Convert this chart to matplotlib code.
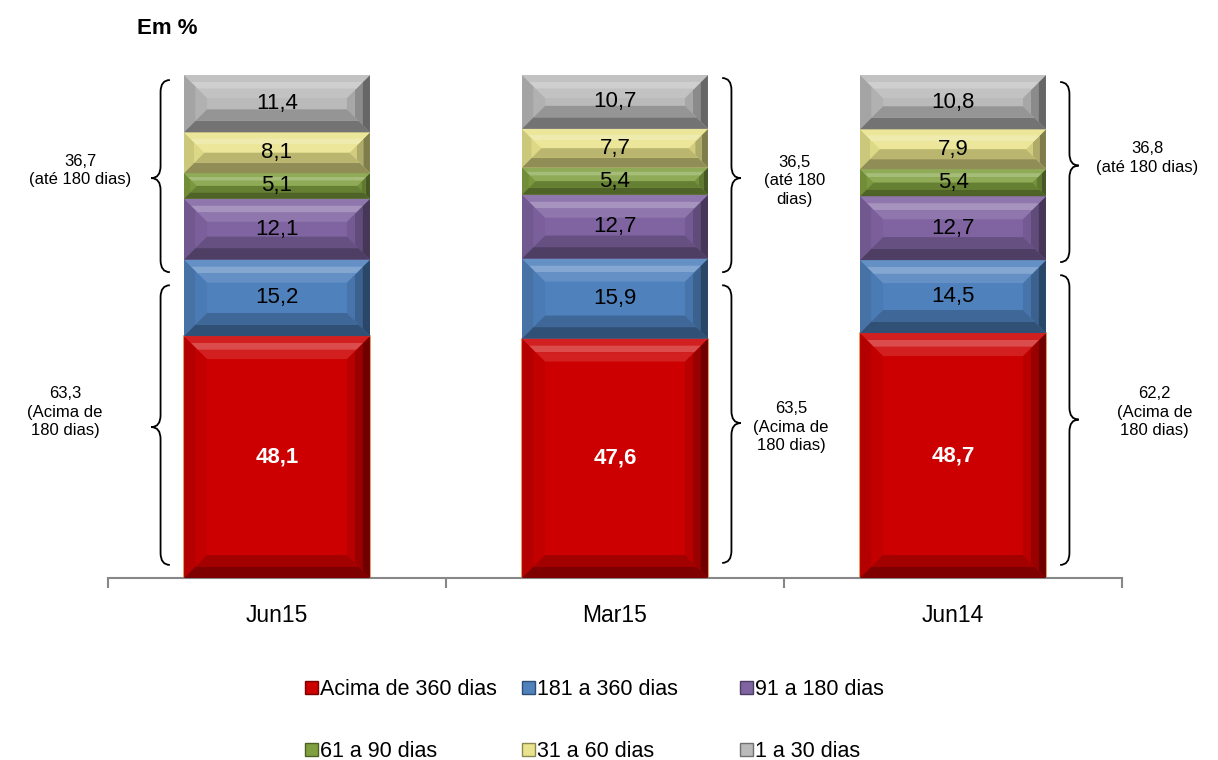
import matplotlib
matplotlib.use("Agg")
import matplotlib.pyplot as plt
from matplotlib.patches import Polygon, Patch, PathPatch
from matplotlib.path import Path
from matplotlib.colors import to_rgb
import numpy as np

plt.rcParams['font.family'] = ['Liberation Sans', 'DejaVu Sans']

categories = ["Jun15", "Mar15", "Jun14"]
series = ["Acima de 360 dias", "181 a 360 dias", "91 a 180 dias",
          "61 a 90 dias", "31 a 60 dias", "1 a 30 dias"]
acima_360 = [48.1, 47.6, 48.7]
d181_360 = [15.2, 15.9, 14.5]
d91_180 = [12.1, 12.7, 12.7]
d61_90 = [5.1, 5.4, 5.4]
d31_60 = [8.1, 7.7, 7.9]
d1_30 = [11.4, 10.7, 10.8]
ate_180 = [36.7, 36.5, 36.8]
acima_180 = [63.3, 63.5, 62.2]

values = [acima_360, d181_360, d91_180, d61_90, d31_60, d1_30]
colors = ["#CC0000", "#4F81BD", "#8064A2", "#80A040", "#E8E38C", "#BABABA"]


def mix(c, other, t):
    c = np.array(to_rgb(c))
    o = np.array(to_rgb(other))
    return tuple(c * (1 - t) + o * t)


def fmt(v):
    return f"{v:.1f}".replace(".", ",")


fig = plt.figure(figsize=(12.18, 7.6), dpi=100)
ax = fig.add_axes([108 / 1218, 1 - 578 / 760, (1122 - 108) / 1218, (578 - 75) / 760])
ax.set_xlim(-0.5, 2.5)
ax.set_ylim(0, 100)

x = np.arange(len(categories))
width = 0.55
fig.canvas.draw()
bb = ax.get_window_extent()
px_x = bb.width / 3.0
px_y = bb.height / 100.0
bev_px = 23


def bevel(c, b, h, col):
    L, R, B, T = c - width / 2, c + width / 2, b, b + h
    d = min(bev_px, h * px_y / 2)
    dx, dy = d / px_x, d / px_y

    def band(side, t0, t1, fc):
        if side == "top":
            pts = [(L + dx * t0, T - dy * t0), (R - dx * t0, T - dy * t0),
                   (R - dx * t1, T - dy * t1), (L + dx * t1, T - dy * t1)]
        elif side == "bottom":
            pts = [(L + dx * t0, B + dy * t0), (R - dx * t0, B + dy * t0),
                   (R - dx * t1, B + dy * t1), (L + dx * t1, B + dy * t1)]
        elif side == "left":
            pts = [(L + dx * t0, B + dy * t0), (L + dx * t0, T - dy * t0),
                   (L + dx * t1, T - dy * t1), (L + dx * t1, B + dy * t1)]
        else:
            pts = [(R - dx * t0, B + dy * t0), (R - dx * t0, T - dy * t0),
                   (R - dx * t1, T - dy * t1), (R - dx * t1, B + dy * t1)]
        ax.add_patch(Polygon(pts, closed=True, facecolor=fc, edgecolor="none", zorder=3))

    band("left", 0, 0.5, mix(col, "black", 0.12))
    band("left", 0.5, 1, mix(col, "black", 0.05))
    band("right", 0, 0.33, mix(col, "black", 0.45))
    band("right", 0.33, 0.66, mix(col, "black", 0.25))
    band("right", 0.66, 1, mix(col, "black", 0.1))
    band("top", 0, 0.3, mix(col, "white", 0.12))
    band("top", 0.3, 0.6, mix(col, "white", 0.3))
    band("top", 0.6, 1, mix(col, "white", 0.12))
    band("bottom", 0, 0.5, mix(col, "black", 0.38))
    band("bottom", 0.5, 1, mix(col, "black", 0.2))


bottom = np.zeros(len(categories))
for i, (name, vals, col) in enumerate(zip(series, values, colors)):
    edge = "#E3884A" if i == 0 else "none"
    bars = ax.bar(x, vals, width, bottom=bottom, color=col, label=name,
                  edgecolor=edge, lw=1.2, zorder=2)
    for xi, b, v in zip(x, bottom, vals):
        bevel(xi, b, v, col)
    if i == 0:
        ax.bar_label(bars, labels=[fmt(v) for v in vals], label_type="center",
                     color="white", fontsize=16, fontweight="bold", zorder=5)
    else:
        ax.bar_label(bars, labels=[fmt(v) for v in vals], label_type="center",
                     color="black", fontsize=16, zorder=5)
    bottom += np.array(vals)


def brace(x_end, direction, y_top, y_bot, y_mid, w=0.055, r=2.4):
    spine = x_end + direction * w * 0.5
    tip = x_end + direction * w
    verts = [(x_end, y_top), (spine, y_top), (spine, y_top - r),
             (spine, y_mid + r), (spine, y_mid), (tip, y_mid),
             (spine, y_mid), (spine, y_mid - r),
             (spine, y_bot + r), (spine, y_bot), (x_end, y_bot)]
    codes = [Path.MOVETO, Path.CURVE3, Path.CURVE3, Path.LINETO,
             Path.CURVE3, Path.CURVE3, Path.CURVE3, Path.CURVE3,
             Path.LINETO, Path.CURVE3, Path.CURVE3]
    ax.add_patch(PathPatch(Path(verts, codes), facecolor="none", edgecolor="black",
                           lw=1.3, clip_on=False, zorder=4))


# brace layout: (side, upper range, lower range)
brace_side = [-1, 1, 1]
brace_up = [(99.0, 60.8, 79.5), (99.4, 60.8, 79.5), (98.6, 62.8, 82.0)]
brace_lo = [(58.2, 2.6, 30.0), (58.2, 3.0, 30.8), (60.2, 2.6, 31.5)]
up_text_pos = [(-0.583, 81.0), (1.532, 79.0), (2.574, 83.5)]
lo_text_pos = [(-0.627, 33.0), (1.521, 30.0), (2.597, 33.0)]
up_fmt = ["{}\n(até 180 dias)", "{}\n(até 180\ndias)", "{}\n(até 180 dias)"]

for i, xi in enumerate(x):
    s = brace_side[i]
    x_end = xi + s * (width / 2 + 0.042)
    brace(x_end, s, *brace_up[i])
    brace(x_end, s, *brace_lo[i])
    ax.text(*up_text_pos[i], up_fmt[i].format(fmt(ate_180[i])), ha="center",
            va="center", fontsize=12, linespacing=1.3, clip_on=False)
    ax.text(*lo_text_pos[i], "{}\n(Acima de\n180 dias)".format(fmt(acima_180[i])),
            ha="center", va="center", fontsize=12, linespacing=1.3, clip_on=False)

# axes styling
for sp in ["top", "right", "left"]:
    ax.spines[sp].set_visible(False)
ax.spines["bottom"].set_color("#878787")
ax.spines["bottom"].set_linewidth(1.5)
ax.set_yticks([])
ax.set_xticks(x)
ax.set_xticklabels(categories, fontsize=16.5)
ax.tick_params(axis="x", which="major", length=0, pad=19)
ax.set_xticks([-0.5, 0.5, 1.5, 2.5], minor=True)
ax.tick_params(axis="x", which="minor", length=7, width=1.5, color="#878787")

fig.text(137 / 1218, 1 - 28 / 760, "Em %", fontsize=16, fontweight="bold",
         ha="left", va="center")

handles = [Patch(facecolor=c, edgecolor=mix(c, "black", 0.4), lw=1) for c in colors]
col_x = [305 / 1218, 522 / 1218, 740 / 1218]
for j in range(3):
    fig.legend([handles[j], handles[j + 3]], [series[j], series[j + 3]],
               loc="center left", bbox_to_anchor=(col_x[j], 1 - 720.5 / 760),
               frameon=False, fontsize=15.5, handlelength=0.6, handleheight=0.6,
               handletextpad=0.1, labelspacing=1.9, borderpad=0, borderaxespad=0)

fig.savefig("out.png", dpi=100)
